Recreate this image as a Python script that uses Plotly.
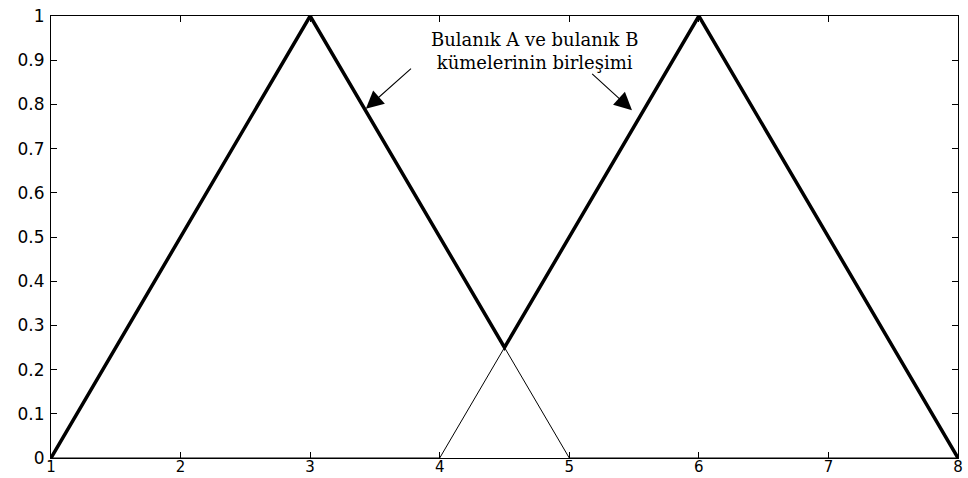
import plotly.graph_objects as go

# Fuzzy set A: triangle on [1, 5] peaking at 3
a_x = [1, 3, 5, 8]
a_y = [0, 1, 0, 0]
# Fuzzy set B: triangle on [4, 8] peaking at 6
b_x = [1, 4, 6, 8]
b_y = [0, 0, 1, 0]
# Union (max) of A and B
union_x = [1, 3, 4.5, 6, 8]
union_y = [0, 1, 0.25, 1, 0]

x_ticks = [1, 2, 3, 4, 5, 6, 7, 8]
y_ticks = [0, 0.1, 0.2, 0.3, 0.4, 0.5, 0.6, 0.7, 0.8, 0.9, 1]
y_tick_text = ["0", "0.1", "0.2", "0.3", "0.4", "0.5", "0.6", "0.7", "0.8", "0.9", "1"]

label_lines = ["Bulanık A ve bulanık B", "kümelerinin birleşimi"]

fig = go.Figure()
fig.add_trace(go.Scatter(x=a_x, y=a_y, mode="lines",
                         line=dict(color="black", width=1), hoverinfo="skip"))
fig.add_trace(go.Scatter(x=b_x, y=b_y, mode="lines",
                         line=dict(color="black", width=1), hoverinfo="skip"))
fig.add_trace(go.Scatter(x=union_x, y=union_y, mode="lines",
                         line=dict(color="black", width=3.5), hoverinfo="skip"))

text_font = dict(family="DejaVu Serif, Liberation Serif, serif", size=18, color="black")
fig.add_annotation(x=4.73, y=0.92, xref="x", yref="y", text="<br>".join(label_lines),
                   showarrow=False, font=text_font, align="center")

# Arrows pointing at the union curve
arrow_style = dict(showarrow=True, arrowhead=2, arrowsize=3.2, arrowwidth=1.1,
                   arrowcolor="black", xref="x", yref="y", axref="x", ayref="y",
                   text="")
fig.add_annotation(x=3.43, y=0.79, ax=3.79, ay=0.884, **arrow_style)
fig.add_annotation(x=5.484, y=0.787, ax=5.165, ay=0.872, **arrow_style)

axis_common = dict(showgrid=False, zeroline=False, showline=True, linecolor="black",
                   linewidth=1, mirror="ticks", ticks="inside", ticklen=6,
                   tickcolor="black", tickwidth=1, automargin=False)
tick_font_family = "DejaVu Sans, Arial, sans-serif"
fig.update_xaxes(range=[1, 8], tickvals=x_ticks, ticktext=[str(v) for v in x_ticks],
                 ticklabelstandoff=-5,
                 tickfont=dict(family=tick_font_family, size=15, color="black"),
                 **axis_common)
fig.update_yaxes(range=[0, 1], tickvals=y_ticks, ticktext=y_tick_text,
                 ticklabelstandoff=2,
                 tickfont=dict(family=tick_font_family, size=17, color="black"),
                 **axis_common)

fig.update_layout(width=968, height=478, showlegend=False,
                  margin=dict(l=51, r=10, t=16, b=20),
                  paper_bgcolor="white", plot_bgcolor="white")

fig.write_html("out.html")
